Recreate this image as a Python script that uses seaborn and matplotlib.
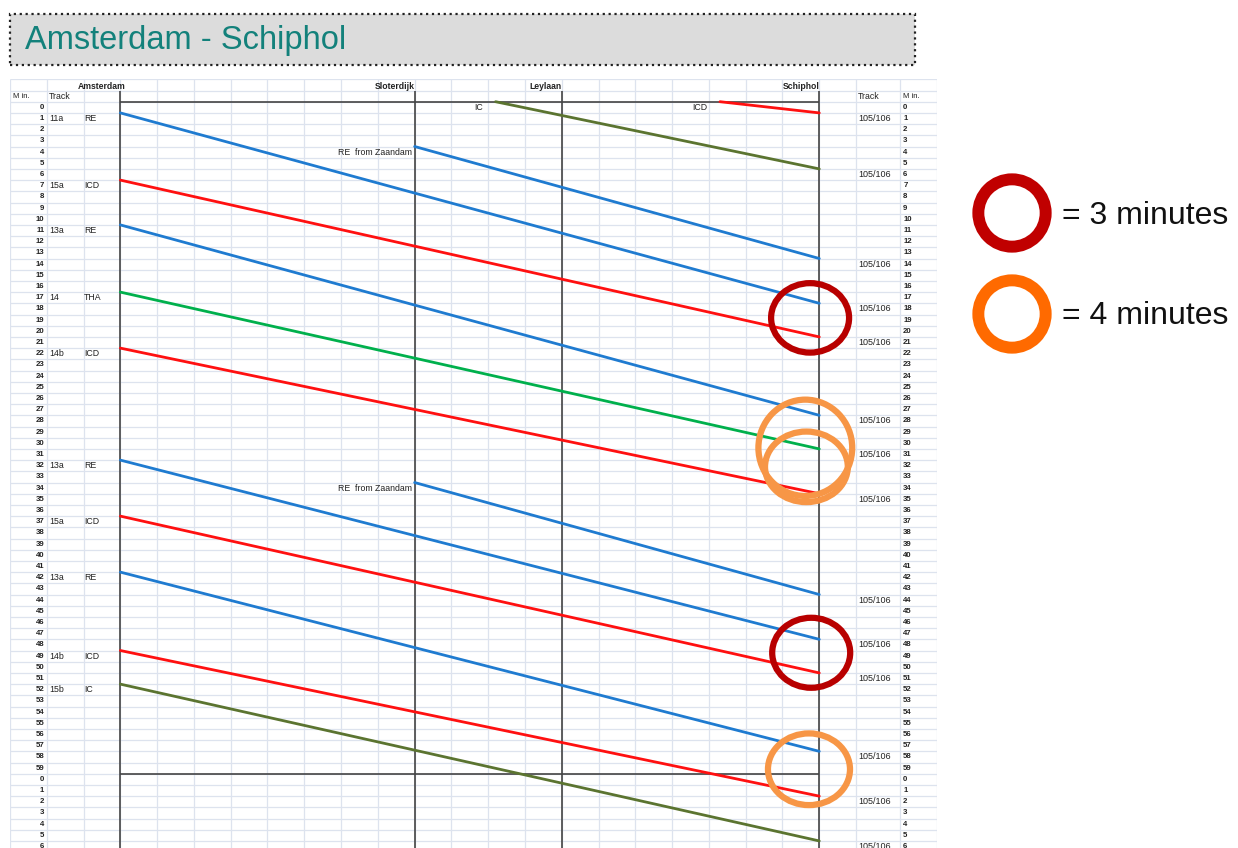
import numpy as np
import pandas as pd
import matplotlib
import matplotlib.pyplot as plt
from matplotlib.patches import Ellipse, Rectangle
import seaborn as sns
matplotlib.use('Agg')

sns.set_style('white')
plt.rcParams['font.family'] = ['Liberation Sans', 'DejaVu Sans']

# stations (column position along the line)
stations = ['Amsterdam', 'Sloterdijk', 'Leylaan', 'Schiphol']
station_pos = [0, 8, 12, 19]

# trains: start position, start minute, end position, end minute
train_type = ['IC', 'ICD', 'RE', 'RE', 'ICD', 'RE', 'THA', 'ICD', 'RE', 'RE', 'ICD', 'RE', 'ICD', 'IC']
train_track = ['', '', '11a', '', '15a', '13a', '14', '14b', '13a', '', '15a', '13a', '14b', '15b']
start_pos = [10.2, 16.3, 0, 8, 0, 0, 0, 0, 0, 8, 0, 0, 0, 0]
start_min = [0, 0, 1, 4, 7, 11, 17, 22, 32, 34, 37, 42, 49, 52]
end_min = [6, 1, 18, 14, 21, 28, 31, 35, 48, 44, 51, 58, 62, 66]
type_colors = {'RE': '#1f7bd0', 'ICD': '#ff1010', 'THA': '#00b04c', 'IC': '#5b7430'}
arr_track = '105/106'

# highlighted transfers: (position, minute, width, height, colour)
ring_pos = [18.75, 18.62, 18.65, 18.78, 18.72]
ring_min = [19.3, 30.9, 32.6, 49.2, 59.6]
ring_w = [2.12, 2.55, 2.25, 2.12, 2.23]
ring_h = [6.2, 8.6, 6.3, 6.25, 6.4]
ring_col = ['#b80000', '#f79646', '#f79646', '#b80000', '#f79646']

legend_labels = ['= 3 minutes', '= 4 minutes']
legend_colors = ['#c00000', '#ff6a00']

fig = plt.figure(figsize=(12.38, 8.48), dpi=100)

# title box
fig.patches.append(Rectangle((10 / 1238, 1 - 65 / 848), 905 / 1238, 51 / 848,
                             transform=fig.transFigure, facecolor='#dcdcdc',
                             edgecolor='#222222', linestyle=':', linewidth=1.6))
fig.text(25 / 1238, 1 - 41 / 848, 'Amsterdam - Schiphol', color='#13817b',
         fontsize=23.5, va='center', ha='left')

# timetable axes
ax = fig.add_axes([10 / 1238, 0, 927 / 1238, (848 - 79.3) / 848])

grid_x = list(range(-3, 21)) + [21.2, 22.2]
ax.vlines(grid_x, -2, 67, color='#dde3ee', lw=0.9, zorder=0)
ax.hlines(np.arange(-2, 67), -3, 22.2, color='#dde3ee', lw=0.9, zorder=0)

ax.vlines(station_pos, -1, 67, color='#444444', lw=1.2, zorder=2)
ax.hlines([0, 60], station_pos[0], station_pos[-1], color='#444444', lw=1.2, zorder=2)

rows = []
for i in range(len(start_min)):
    rows.append({'train': i, 'pos': start_pos[i], 't': start_min[i]})
    rows.append({'train': i, 'pos': station_pos[-1], 't': end_min[i]})
df = pd.DataFrame(rows)
pal = {i: type_colors[train_type[i]] for i in range(len(start_min))}
sns.lineplot(data=df, x='pos', y='t', hue='train', palette=pal, estimator=None,
             sort=False, legend=False, lw=2.0, ax=ax, zorder=3)
ax.set_xlim(-3, 22.2)
ax.set_ylim(66.63, -2)
ax.axis('off')

small = dict(fontsize=5.6, color='#222222', va='center')
# header
for s, p in zip(stations, station_pos):
    ax.text(p + (0.15 if p == 0 else 0), -1.35, s, ha='right', fontweight='bold',
            fontsize=6.2, va='center', color='#222222')
ax.text(-2.93, -0.45, 'M in.', ha='left', **small)
ax.text(-1.95, -0.45, 'Track', ha='left', fontsize=6.3, va='center', color='#222222')
ax.text(20.05, -0.45, 'Track', ha='left', fontsize=6.3, va='center', color='#222222')
ax.text(21.28, -0.45, 'M in.', ha='left', **small)

for m in range(67):
    ax.text(-2.07, m + 0.5, str(m % 60), ha='right', fontweight='bold', **small)
    ax.text(21.28, m + 0.5, str(m % 60), ha='left', fontweight='bold', **small)

for i in range(len(start_min)):
    if start_pos[i] == 0:
        ax.text(-1.93, start_min[i] + 0.5, train_track[i], ha='left', fontsize=6.3,
                va='center', color='#222222')
        ax.text(-0.98, start_min[i] + 0.5, train_type[i], ha='left', fontsize=6.3,
                va='center', color='#222222')
    elif start_pos[i] == station_pos[1]:
        ax.text(7.93, start_min[i] + 0.5, 'RE  from Zaandam', ha='right', fontsize=6.3,
                va='center', color='#222222')
    else:
        ax.text(start_pos[i] - 0.35, start_min[i] + 0.5, train_type[i], ha='right',
                fontsize=6.3, va='center', color='#222222')
    ax.text(20.05, end_min[i] + 0.5, arr_track, ha='left', fontsize=6.5,
            va='center', color='#222222')

for p, m, w, h, c in zip(ring_pos, ring_min, ring_w, ring_h, ring_col):
    ax.add_patch(Ellipse((p, m), w, h, fill=False, edgecolor=c, lw=4.5, zorder=4))

# legend
lax = fig.add_axes([0, 0, 1, 1])
lax.set_xlim(0, 1238)
lax.set_ylim(848, 0)
lax.axis('off')
lax.scatter([1012, 1012], [213, 314], s=2350, facecolors='none',
            edgecolors=legend_colors, linewidths=8.6)
for lab, yy in zip(legend_labels, [216, 316]):
    lax.text(1062, yy, lab, fontsize=23, va='center', ha='left', color='#111111')

fig.savefig('out.png', dpi=100)
